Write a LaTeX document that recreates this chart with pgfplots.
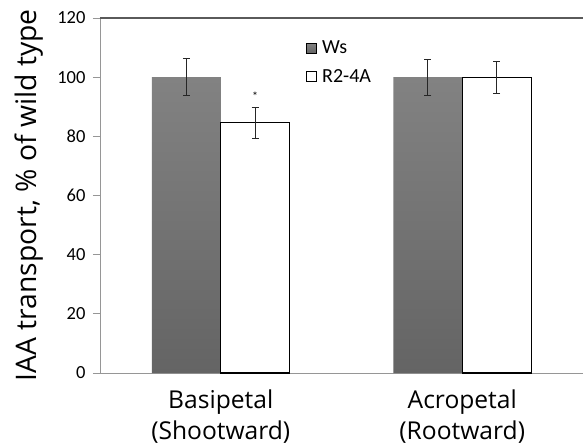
\documentclass[border=0pt]{standalone}
\usepackage{fontspec}
\setmainfont{Carlito}
\newfontfamily\labfont{Open Sans}
\usepackage{pgfplots}
\pgfplotsset{compat=1.18}
\definecolor{wstop}{RGB}{130,130,130}
\definecolor{wsbot}{RGB}{100,100,100}
\definecolor{axgray}{RGB}{150,150,150}
\definecolor{topline}{RGB}{90,90,90}
\begin{document}
\begin{tikzpicture}
\begin{axis}[
  at={(0,0)}, anchor=south west,
  scale only axis, width=483pt, height=355pt,
  xmin=-0.5, xmax=1.5, ymin=0, ymax=120,
  axis x line=bottom, axis y line=left,
  axis line style={axgray, line width=0.9pt, -},
  every tick/.style={axgray, line width=0.9pt},
  tick align=outside,
  major tick length=7pt,
  ytick={0,20,40,60,80,100,120},
  xtick={0,1},
  xtick style={draw=none},
  xticklabels={{Basipetal\\(Shootward)},{Acropetal\\(Rootward)}},
  xticklabel style={align=center, font=\labfont\fontsize{24.6}{31.4}\selectfont, yshift=-6pt},
  yticklabel style={font=\fontsize{18.5}{20}\selectfont, xshift=-4pt},
  /pgf/number format/assume math mode=true,
  extra x ticks={-0.5,0.5,1.5},
  extra x tick labels={},
  extra x tick style={xtick style={axgray, line width=0.9pt}, major tick length=8pt},
  extra y ticks={120},
  extra y tick labels={},
  extra y tick style={grid=major, major grid style={topline, line width=1.1pt}},
  ylabel={IAA transport, \% of wild type},
  ylabel style={at={([xshift=-71pt]rel axis cs:0,0.5)}, anchor=center, font=\labfont\fontsize{28.3}{30}\selectfont},
  ybar, bar width=0.285, 
  clip=false,
  legend style={draw=none, fill=none, at={(rel axis cs:0.42,0.947)}, anchor=north west,
    font=\fontsize{20}{22}\selectfont, row sep=10pt, legend cell align=left},
  legend image code/.code={\draw[#1] (0pt,-5pt) rectangle (10pt,5pt); \path (13pt,0pt);},
  error bars/y dir=both, error bars/y explicit,
  error bars/error bar style={black!85, line width=1.2pt},
  error bars/error mark options={black!85, rotate=90, mark size=3.5pt, line width=1.2pt},
]
\addplot[bar shift=-0.1425, draw=none, top color=wstop, bottom color=wsbot]
  coordinates {(0,100) +- (0,6.2) (1,100) +- (0,6.1)};
\addlegendentry{Ws}
\addplot[bar shift=0.1425, draw=black, line width=1.1pt, fill=white]
  coordinates {(0,84.6) +- (0,5.25) (1,99.8) +- (0,5.4)};
\addlegendentry{R2-4A}
\node[font=\fontsize{12}{12}\selectfont, inner sep=0pt] at (axis cs:0.1425,93.6) {*};
\end{axis}
\pgfresetboundingbox
\path[use as bounding box] (-100pt,-74pt) rectangle (483pt,373pt);
\end{tikzpicture}
\end{document}
